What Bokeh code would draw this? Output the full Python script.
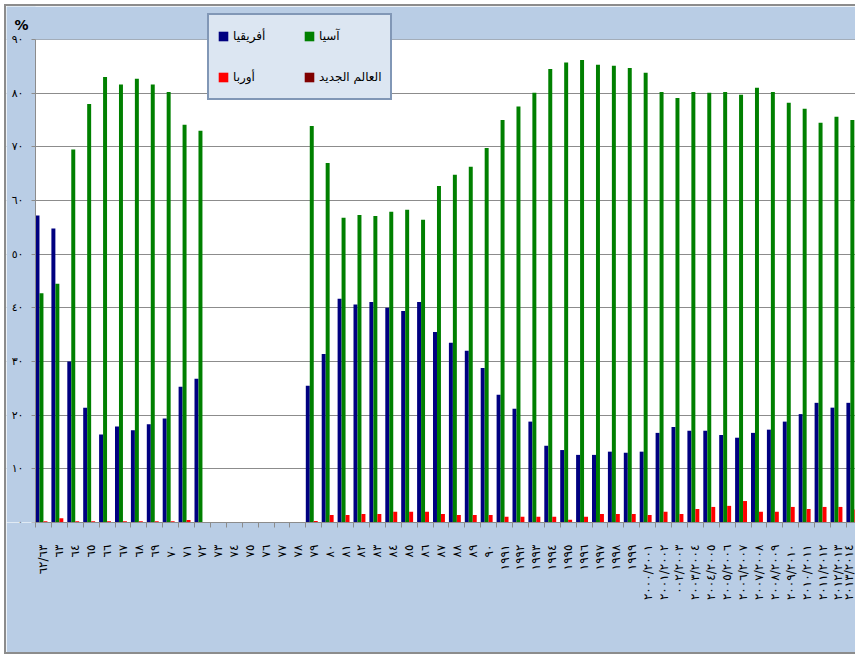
import math
import numpy as np
from bokeh.plotting import figure
from bokeh.models import (Range1d, FixedTicker, Legend, LegendItem, Label,
                          ColumnDataSource, BoxAnnotation)
from bokeh.transform import dodge
from bokeh.embed import file_html
from bokeh.resources import INLINE

AR = str.maketrans("0123456789", "٠١٢٣٤٥٦٧٨٩")
nan = float("nan")

# category (year) labels, latin digits converted to Arabic-Indic below
year_labels_latin = [
    "62/63", "63", "64", "65", "66", "67", "68", "69",
    "70", "71", "72", "73", "74", "75", "76", "77", "78", "79",
    "80", "81", "82", "83", "84", "85", "86", "87", "88", "89",
    "90", "1991", "1992", "1993", "1994", "1995", "1996", "1997", "1998", "1999",
    "2000/2001", "2001/2002", "002/2003", "2003/2004", "2004/2005", "2005/2006",
    "2006/2007", "2007/2008", "2008/2009", "2009/2010", "2010/2011", "2011/2012",
    "2012/2013", "2013/2014",
]
year_labels = [s.translate(AR) for s in year_labels_latin]

africa = [57.2, 54.8, 30.0, 21.4, 16.4, 17.9, 17.2, 18.3, 19.4, 25.3, 26.8,
          nan, nan, nan, nan, nan, nan,
          25.5, 31.4, 41.7, 40.6, 41.1, 40.0, 39.4, 41.1, 35.5, 33.5, 32.0, 28.8,
          23.8, 21.2, 18.8, 14.3, 13.5, 12.6, 12.6, 13.2, 13.0, 13.2, 16.7, 17.8,
          17.1, 17.1, 16.3, 15.8, 16.7, 17.3, 18.8, 20.2, 22.3, 21.4, 22.3]
asia = [42.7, 44.5, 69.5, 78.0, 83.0, 81.6, 82.7, 81.6, 80.2, 74.1, 73.0,
        nan, nan, nan, nan, nan, nan,
        73.9, 67.0, 56.8, 57.3, 57.1, 57.9, 58.3, 56.4, 62.7, 64.8, 66.3, 69.8,
        75.0, 77.5, 80.1, 84.5, 85.7, 86.2, 85.3, 85.1, 84.7, 83.8, 80.2, 79.1,
        80.2, 80.1, 80.2, 79.7, 81.0, 80.2, 78.2, 77.1, 74.5, 75.6, 75.0]
europe = [0.25, 0.8, 0.25, 0.25, 0.25, 0.25, 0.25, 0.25, 0.25, 0.45, 0.1,
          nan, nan, nan, nan, nan, nan,
          0.3, 1.4, 1.4, 1.6, 1.6, 2.0, 2.0, 2.0, 1.6, 1.4, 1.4, 1.4,
          1.05, 1.05, 1.05, 1.05, 0.5, 1.05, 1.6, 1.6, 1.6, 1.4, 2.0, 1.6,
          2.5, 2.9, 3.1, 4.0, 2.0, 2.0, 2.9, 2.5, 2.9, 2.9, 2.4]
new_world = [0.0] * 11 + [nan] * 6 + [0.0] * 35

y_ticks = [0, 10, 20, 30, 40, 50, 60, 70, 80, 90]
y_max = 90

series_names = ["أفريقيا", "آسيا", "أوربا", "العالم الجديد"]
series_colors = ["#000080", "#008000", "#FF0000", "#800000"]
BG = "#B9CDE5"
GRAY = "#8c8c8c"

x = list(range(len(year_labels)))
source = ColumnDataSource(dict(
    x=x,
    africa=np.array(africa, dtype=float),
    asia=np.array(asia, dtype=float),
    europe=np.array(europe, dtype=float),
    new_world=np.array(new_world, dtype=float),
))

# The frame covers the whole chart area (so legend and "%" are not clipped);
# strips outside the real plot area are painted with the chart background.
p = figure(width=851, height=650, output_backend="svg", toolbar_location=None,
           x_range=Range1d(-2.324, 51.198), y_range=Range1d(0, 96.15),
           min_border_left=0, min_border_top=0, min_border_bottom=134,
           min_border_right=0)
p.styles = {"margin-left": "4px", "margin-top": "4px",
            "border-top": f"2px solid {GRAY}", "border-left": f"2px solid {GRAY}",
            "border-bottom": f"2px solid {GRAY}"}
p.background_fill_color = "white"
p.border_fill_color = BG
p.outline_line_color = None

renderers = []
for col, off, color in zip(["africa", "asia", "europe", "new_world"],
                           [-0.375, -0.125, 0.125, 0.375], series_colors):
    r = p.vbar(x=dodge("x", off), top=col, width=0.25, source=source,
               fill_color=color, line_color=None)
    renderers.append(r)

p.add_layout(BoxAnnotation(bottom=y_max, fill_color=BG, fill_alpha=1,
                           line_color=None, level="underlay"))
p.add_layout(BoxAnnotation(right=-0.5, fill_color=BG, fill_alpha=1,
                           line_color=None, level="underlay"))

# x axis
p.xaxis.bounds = (-0.5, len(x) + 1)
p.xaxis.ticker = FixedTicker(ticks=x, minor_ticks=[i - 0.5 for i in range(len(x) + 1)])
p.xaxis.major_label_overrides = {i: lab for i, lab in enumerate(year_labels)}
p.xaxis.major_label_orientation = math.pi / 2
p.xaxis.major_tick_out = 0
p.xaxis.major_tick_in = 0
p.xaxis.minor_tick_out = 5
p.xaxis.minor_tick_in = 0
p.xaxis.minor_tick_line_color = GRAY
p.xaxis.axis_line_color = GRAY
p.xaxis.major_label_standoff = 17
p.xaxis.major_label_text_font = "DejaVu Sans"
p.xaxis.major_label_text_font_size = "12px"
p.xaxis.major_label_text_color = "black"

# y axis drawn at the left edge of the real plot area
p.yaxis.fixed_location = -0.5
p.yaxis.bounds = (0, y_max)
p.yaxis.ticker = FixedTicker(ticks=y_ticks)
p.yaxis.major_label_overrides = {v: str(v).translate(AR) for v in y_ticks}
p.yaxis.major_tick_out = 4
p.yaxis.major_tick_in = 0
p.yaxis.minor_tick_out = 0
p.yaxis.minor_tick_in = 0
p.yaxis.major_tick_line_color = GRAY
p.yaxis.axis_line_color = GRAY
p.yaxis.major_label_standoff = 8
p.yaxis.major_label_text_font = "DejaVu Sans"
p.yaxis.major_label_text_font_size = "11px"
p.yaxis.major_label_text_color = "black"

p.xgrid.visible = False
p.ygrid.ticker = FixedTicker(ticks=y_ticks)
p.ygrid.grid_line_color = GRAY
p.ygrid.grid_line_width = 1

pct = Label(x=8, y=490, x_units="screen", y_units="screen", text="%",
            text_font="DejaVu Sans", text_font_size="14px", text_font_style="bold",
            text_color="black", text_baseline="bottom")
p.add_layout(pct)

legend = Legend(
    items=[LegendItem(label=n, renderers=[r]) for n, r in zip(series_names, renderers)],
    location=(201, 422), orientation="horizontal", ncols=2,
    glyph_width=12, glyph_height=12, label_standoff=4, label_width=55,
    label_height=26, spacing=15, padding=8, margin=0,
    border_line_color="#25477A", border_line_width=2,
    background_fill_color="#DCE6F2", background_fill_alpha=1,
    label_text_font="DejaVu Sans", label_text_font_size="12px",
    label_text_color="black",
)
p.add_layout(legend, "center")

open("out.html", "w").write(file_html(p, INLINE))
